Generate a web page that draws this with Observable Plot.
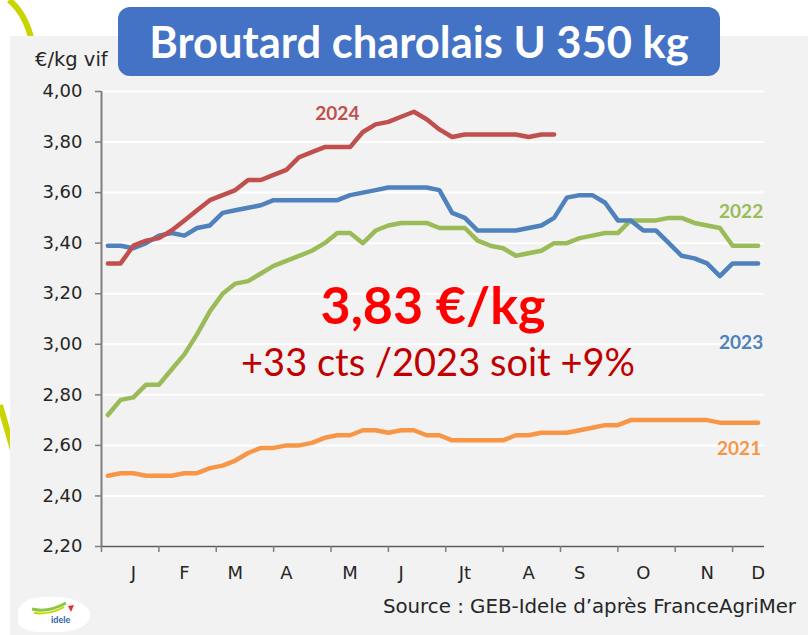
<!DOCTYPE html>
<html>
<head>
<meta charset="utf-8">
<script src="https://cdn.jsdelivr.net/npm/d3@7"></script>
<script src="https://cdn.jsdelivr.net/npm/@observablehq/plot@0.6"></script>
<style>
  html, body { margin: 0; padding: 0; background: #ffffff; }
  #wrap { position: relative; width: 808px; height: 635px; overflow: hidden; background: #ffffff; }
  #deco { position: absolute; left: 0; top: 0; }
  #panel { position: absolute; left: 10px; top: 36px; width: 798px; height: 599px; background: #f2f2f2; }
  #chart { position: absolute; left: 0; top: 0; }
  #title { position: absolute; left: 118px; top: 7px; width: 602px; height: 69px; border-radius: 12px;
           background: #4472c4; color: #ffffff; font-family: Lato, "Open Sans", sans-serif; font-weight: 700;
           font-size: 43.5px; display: flex; align-items: center; justify-content: center; line-height: 1; }
  #unit { position: absolute; left: 35px; top: 50px; font-family: "DejaVu Sans", sans-serif; font-size: 19.5px; color: #262626; line-height: 1; }
  #source { position: absolute; right: 12px; top: 597px; font-family: "DejaVu Sans", sans-serif; font-size: 19.8px; color: #262626; line-height: 1; }
  #logo { position: absolute; left: 18px; top: 597px; width: 72px; height: 35px; background: #ffffff; border-radius: 40% 50% 45% 30%; }
  #logo span { position: absolute; left: 33px; top: 17px; font-family: Lato, sans-serif; font-weight: 700; font-size: 9px; color: #2a62ad; }
</style>
</head>
<body>
<div id="wrap">
  <svg id="deco" width="808" height="635">
    <path d="M9,0 Q26,14 32,42" fill="none" stroke="#cad400" stroke-width="6"/>
    <path d="M0,405 L13,450" fill="none" stroke="#cad400" stroke-width="6"/>
  </svg>
  <div id="panel"></div>
  <div id="logo">
    <svg width="72" height="35" style="position:absolute;left:0;top:0">
      <path d="M14,12 Q30,16 48,6" fill="none" stroke="#8cc63f" stroke-width="3"/>
      <path d="M16,16 Q32,18 46,10" fill="none" stroke="#c8d400" stroke-width="2"/>
      <path d="M50,9 L56,8 L53,15 Z" fill="#e3312d"/>
    </svg>
    <span>idele</span>
  </div>
  <div id="chart"></div>
  <div id="title">Broutard charolais U 350 kg</div>
  <div id="unit">€/kg vif</div>
  <div id="source">Source : GEB-Idele d’après FranceAgriMer</div>
</div>
<script>
// Weekly prices (€/kg vif), week 1..52
const prix2021 = [2.48,2.49,2.49,2.48,2.48,2.48,2.49,2.49,2.51,2.52,2.54,2.57,2.59,2.59,2.60,2.60,2.61,2.63,2.64,2.64,2.66,2.66,2.65,2.66,2.66,2.64,2.64,2.62,2.62,2.62,2.62,2.62,2.64,2.64,2.65,2.65,2.65,2.66,2.67,2.68,2.68,2.70,2.70,2.70,2.70,2.70,2.70,2.70,2.69,2.69,2.69,2.69];
const prix2022 = [2.72,2.78,2.79,2.84,2.84,2.90,2.96,3.04,3.13,3.20,3.24,3.25,3.28,3.31,3.33,3.35,3.37,3.40,3.44,3.44,3.40,3.45,3.47,3.48,3.48,3.48,3.46,3.46,3.46,3.41,3.39,3.38,3.35,3.36,3.37,3.40,3.40,3.42,3.43,3.44,3.44,3.49,3.49,3.49,3.50,3.50,3.48,3.47,3.46,3.39,3.39,3.39];
const prix2023 = [3.39,3.39,3.38,3.40,3.43,3.44,3.43,3.46,3.47,3.52,3.53,3.54,3.55,3.57,3.57,3.57,3.57,3.57,3.57,3.59,3.60,3.61,3.62,3.62,3.62,3.62,3.61,3.52,3.50,3.45,3.45,3.45,3.45,3.46,3.47,3.50,3.58,3.59,3.59,3.56,3.49,3.49,3.45,3.45,3.40,3.35,3.34,3.32,3.27,3.32,3.32,3.32];
const prix2024 = [3.32,3.32,3.39,3.41,3.42,3.45,3.49,3.53,3.57,3.59,3.61,3.65,3.65,3.67,3.69,3.74,3.76,3.78,3.78,3.78,3.84,3.87,3.88,3.90,3.92,3.89,3.85,3.82,3.83,3.83,3.83,3.83,3.83,3.82,3.83,3.83];

const years = ["2021", "2022", "2023", "2024"];
const yearColors = ["#f79646", "#9bbb59", "#4f81bd", "#c0504d"];
const monthLabels = ["J", "F", "M", "A", "M", "J", "Jt", "A", "S", "O", "N", "D"];
const monthLabelWeeks = [3, 7, 11, 15, 20, 24, 29, 34, 38, 43, 48, 52];
const monthBoundaries = [0.5, 5, 9.5, 14, 18.5, 23, 27.5, 32, 36.5, 41, 45.5, 50];
const yTicks = [2.2, 2.4, 2.6, 2.8, 3.0, 3.2, 3.4, 3.6, 3.8, 4.0];
const bigValue = "3,83 €/kg";
const deltaText = "+33 cts /2023 soit +9%";

const series = [prix2021, prix2022, prix2023, prix2024];
const rows = series.flatMap((arr, s) => arr.map((v, i) => ({year: years[s], week: i + 1, value: v})));

const fmt = d => d.toFixed(2).replace(".", ",");
const labelFont = {fontFamily: "Lato, 'Open Sans', sans-serif", fontWeight: 700, fontSize: 19};

const chart = Plot.plot({
  width: 808,
  height: 635,
  marginLeft: 101,
  marginRight: 44,
  marginTop: 91,
  marginBottom: 89,
  style: {background: "transparent", fontFamily: "'DejaVu Sans', sans-serif", fontSize: "18px", color: "#262626", overflow: "visible"},
  x: {domain: [0.5, 52.5]},
  y: {domain: [2.2, 4.0]},
  color: {domain: years, range: yearColors},
  marks: [
    Plot.gridY(yTicks, {stroke: "#ffffff", strokeOpacity: 1, strokeWidth: 2}),
    Plot.axisY(yTicks, {tickFormat: fmt, tickSize: 6, tickPadding: 13, stroke: "#7f7f7f", strokeWidth: 1.5, label: null}),
    Plot.ruleX([0.5], {stroke: "#7f7f7f", strokeWidth: 2}),
    Plot.ruleY([2.2], {stroke: "#595959", strokeWidth: 1.5}),
    Plot.axisX(monthBoundaries, {tickFormat: () => "", tickSize: 6, stroke: "#7f7f7f", strokeWidth: 1.5, label: null}),
    Plot.axisX(monthLabelWeeks, {tickFormat: d => monthLabels[monthLabelWeeks.indexOf(d)], tickSize: 0, tickPadding: 20, label: null}),
    Plot.line(rows, {x: "week", y: "value", z: "year", stroke: "year", strokeWidth: 4.5, strokeLinejoin: "round", strokeLinecap: "round"}),
    Plot.text(["2024"], {x: 19, y: 3.78, dy: -33, text: d => d, fill: yearColors[3], ...labelFont}),
    Plot.text(["2022"], {x: 52, y: 3.39, dy: -34, dx: -17, text: d => d, fill: yearColors[1], ...labelFont}),
    Plot.text(["2023"], {x: 52, y: 3.32, dy: 80, dx: -17, text: d => d, fill: yearColors[2], ...labelFont}),
    Plot.text(["2021"], {x: 52, y: 2.69, dy: 26, dx: -19, text: d => d, fill: yearColors[0], ...labelFont}),
    Plot.text([bigValue], {frameAnchor: "middle", dy: -12, text: d => d, fill: "#ff0000", fontFamily: "Lato, sans-serif", fontWeight: 700, fontSize: 52}),
    Plot.text([deltaText], {frameAnchor: "middle", dx: 5, dy: 45, text: d => d, fill: "#c00000", fontFamily: "Lato, sans-serif", fontWeight: 400, fontSize: 38})
  ]
});
document.getElementById("chart").appendChild(chart);
</script>
</body>
</html>
